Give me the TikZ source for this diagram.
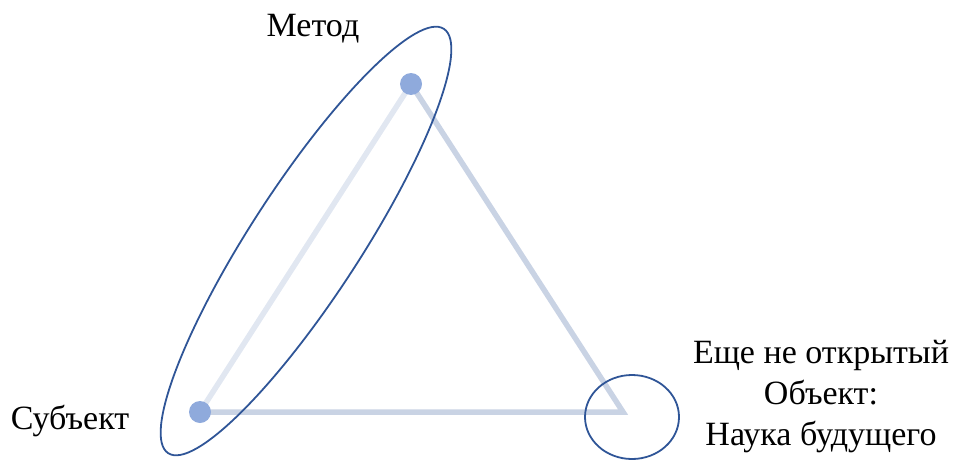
\documentclass[tikz,border=0pt]{standalone}
\usepackage{fontspec}
\setmainfont{Liberation Serif}
\definecolor{ringblue}{HTML}{2F5597}
\definecolor{dotblue}{HTML}{8FAADC}
\definecolor{edgelight}{HTML}{E1E7F1}
\definecolor{edgemid}{HTML}{C9D3E4}
\begin{document}
\begin{tikzpicture}[x=1pt,y=-1pt,
  lbl/.style={font=\fontsize{34}{41}\selectfont, inner sep=0pt, align=center},
  ring/.style={draw=ringblue, line width=1.8pt},
  dotnode/.style={circle, fill=dotblue, minimum size=22pt, inner sep=0pt},
  edgeA/.style={draw=edgelight, line width=5.5pt},
  edgeB/.style={draw=edgemid, line width=5.5pt, line join=miter}]
\useasboundingbox (0,0) rectangle (957,460);
\coordinate (M) at (411,84);
\coordinate (S) at (200,412);
\coordinate (O) at (623,412);
\path[edgeA] (S) -- (M);
\path[edgeB] (M) -- (O) -- (S);
\node[dotnode] (dm) at (M) {};
\node[dotnode] (ds) at (S) {};
\draw[ring, rotate around={57:(306,241)}] (306,241) ellipse [x radius=253, y radius=55];
\draw[ring] (632,417) ellipse [x radius=47, y radius=42];
\node[lbl] (tm) at (313,29) {Метод};
\node[lbl] (ts) at (70,421) {Субъект};
\node[lbl] (to) at (821,397) {Еще не открытый\\Объект:\\Наука будущего};
\end{tikzpicture}
\end{document}
